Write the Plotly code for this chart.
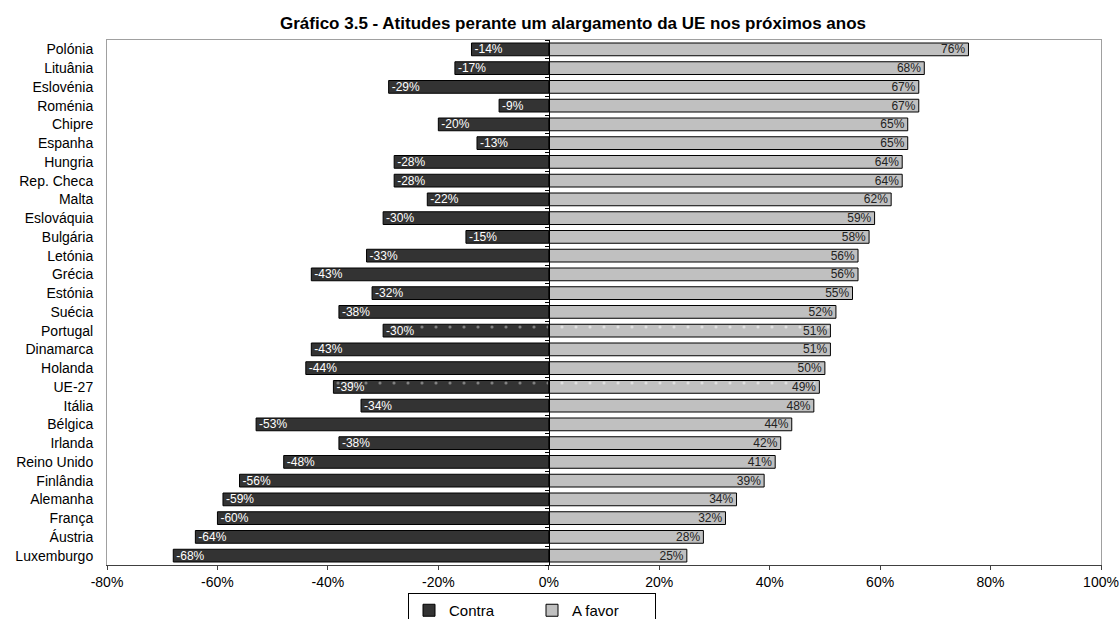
import plotly.graph_objects as go

countries = ["Polónia", "Lituânia", "Eslovénia", "Roménia", "Chipre", "Espanha", "Hungria",
             "Rep. Checa", "Malta", "Eslováquia", "Bulgária", "Letónia", "Grécia", "Estónia",
             "Suécia", "Portugal", "Dinamarca", "Holanda", "UE-27", "Itália", "Bélgica",
             "Irlanda", "Reino Unido", "Finlândia", "Alemanha", "França", "Áustria", "Luxemburgo"]
contra = [-14, -17, -29, -9, -20, -13, -28, -28, -22, -30, -15, -33, -43, -32, -38, -30, -43,
          -44, -39, -34, -53, -38, -48, -56, -59, -60, -64, -68]
a_favor = [76, 68, 67, 67, 65, 65, 64, 64, 62, 59, 58, 56, 56, 55, 52, 51, 51, 50, 49, 48,
           44, 42, 41, 39, 34, 32, 28, 25]
highlight = ["Portugal", "UE-27"]
x_ticks = [-80, -60, -40, -20, 0, 20, 40, 60, 80, 100]
x_ticktext = [f"{v}%" for v in x_ticks]

pattern_shapes = ["." if c in highlight else "" for c in countries]

fig = go.Figure()
fig.add_trace(go.Bar(
    y=countries, x=contra, orientation="h", name="Contra",
    marker=dict(color="#333333", line=dict(color="#000000", width=1),
                pattern=dict(shape=pattern_shapes, fgcolor="#d0d0d0", size=14, solidity=0.04)),
    text=[f"{v}%" for v in contra], textposition="inside", insidetextanchor="end",
    constraintext="none",
    textfont=dict(color="#ffffff", size=12, family="Arial"), width=0.68,
))
fig.add_trace(go.Bar(
    y=countries, x=a_favor, orientation="h", name="A favor",
    marker=dict(color="#c0c0c0", line=dict(color="#000000", width=1),
                pattern=dict(shape=pattern_shapes, fgcolor="#ffffff", size=14, solidity=0.04)),
    text=[f"{v}%" for v in a_favor], textposition="inside", insidetextanchor="end",
    constraintext="none",
    textfont=dict(color="#222222", size=12, family="Arial"), width=0.68,
))
# invisible helper traces for the zero axis ticks and the top frame line
fig.add_trace(go.Scatter(x=[None], y=[None], xaxis="x", yaxis="y2", showlegend=False, hoverinfo="skip"))
fig.add_trace(go.Scatter(x=[None], y=[None], xaxis="x2", yaxis="y", showlegend=False, hoverinfo="skip"))

n = len(countries)
zero_pos = (0 - x_ticks[0]) / (x_ticks[-1] - x_ticks[0])

fig.update_layout(
    width=1120, height=619,
    margin=dict(l=107, r=19, t=40, b=54, autoexpand=False),
    paper_bgcolor="white", plot_bgcolor="white",
    barmode="relative",
    uniformtext=dict(minsize=12, mode="show"),
    font=dict(family="Arial", size=14, color="#000000"),
    title=dict(text="<b>Gráfico 3.5 - Atitudes perante um alargamento da UE nos próximos anos</b>",
               x=573 / 1120, xref="container", xanchor="center",
               y=1 - 23 / 619, yref="container", yanchor="middle",
               font=dict(size=17, family="Arial", color="#000000")),
    xaxis=dict(range=[x_ticks[0], x_ticks[-1]], tickvals=x_ticks, ticktext=x_ticktext,
               showgrid=False, zeroline=False, showline=True, linecolor="#404040",
               mirror=False, ticks="outside", ticklen=4, tickcolor="#404040",
               tickfont=dict(size=14, family="Arial"), automargin=False),
    xaxis2=dict(overlaying="x", side="top", anchor="y", range=[x_ticks[0], x_ticks[-1]],
                showticklabels=False, ticks="", showline=True, linecolor="#a0a0a0",
                showgrid=False, zeroline=False, automargin=False),
    yaxis=dict(autorange="reversed", showgrid=False, showline=True, linecolor="#a0a0a0",
               mirror=True, ticks="", tickfont=dict(size=14, family="Arial"),
               ticklabelstandoff=10, automargin=False),
    yaxis2=dict(overlaying="y", anchor="free", position=zero_pos, range=[n - 0.5, -0.5],
                tickvals=[i - 0.5 for i in range(n + 1)], showticklabels=False,
                ticks="outside", ticklen=4, tickcolor="#000000", showline=True,
                linecolor="#000000", linewidth=1, showgrid=False, zeroline=False,
                side="left", automargin=False),
    legend=dict(orientation="h", x=532 / 1120, xref="container", xanchor="center",
                y=1 - 593 / 619, yref="container", yanchor="top",
                bordercolor="#000000", borderwidth=1,
                font=dict(size=15, family="Arial"), entrywidth=78, traceorder="normal"),
    showlegend=True,
)

fig.write_html("out.html", post_script="document.body.style.margin='0';",
               config={"displayModeBar": False})
